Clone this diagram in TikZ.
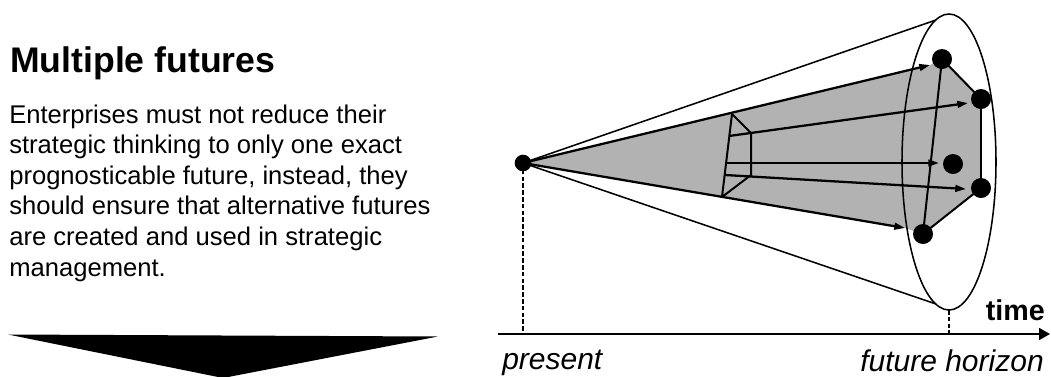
\documentclass[tikz,border=0pt]{standalone}
\usepackage{fontspec}
\setmainfont{Liberation Sans}
\usetikzlibrary{arrows.meta}
\begin{document}
\begin{tikzpicture}[x=0.75pt,y=-0.75pt,
  coneline/.style={line width=1.15pt},
  arr/.style={line width=1.7pt,-{Triangle[length=8pt,width=5pt]}},
  edge/.style={line width=1.5pt},
  dotnode/.style={circle,fill=black,inner sep=0pt,minimum size=15pt},
  pdot/.style={circle,fill=black,inner sep=0pt,minimum size=12.5pt},
  dashline/.style={line width=1.5pt,dash pattern=on 3.4pt off 1.7pt},
  body/.style={anchor=base west,inner sep=0pt,font=\fontsize{19.2}{23}\selectfont},
  axlabel/.style={inner sep=0pt,font=\fontsize{22.5}{27}\selectfont\itshape},
  shade/.style={fill=black!30}]
\useasboundingbox (0,0) rectangle (1051,376);

% ---------- left text ----------
\node[anchor=base west,inner sep=0pt,font=\fontsize{26.7}{32}\selectfont\bfseries] (title) at (10,72) {Multiple futures};
\node[body] (l1) at (9,123) {Enterprises must not reduce their};
\node[body] (l2) at (9,153.6) {strategic thinking to only one exact};
\node[body] (l3) at (9,184.2) {prognosticable future, instead, they};
\node[body] (l4) at (9,214.8) {should ensure that alternative futures};
\node[body] (l5) at (9,245.4) {are created and used in strategic};
\node[body] (l6) at (9,276) {management.};

% big down arrow
\fill[black] (8,334.5) -- (438,336.5) -- (223,378) -- cycle;

% ---------- coordinates ----------
\coordinate (Pc) at (523,163);
\coordinate (t1) at (930,65);
\coordinate (t2) at (968,103);
\coordinate (t3) at (939,163);
\coordinate (t4) at (966,189);
\coordinate (t5) at (905,228);
\coordinate (s2) at (729,136);
\coordinate (s3) at (726,163);
\coordinate (s4) at (725,175);
\coordinate (q1) at (732,114);
\coordinate (q2) at (751,133);
\coordinate (q3) at (751,175);
\coordinate (q4) at (722,197);
\coordinate (ec) at (949,162);
\coordinate (ut) at (936,20);
\coordinate (lt) at (936,304);
\coordinate (eb) at (949,310);
\coordinate (ax0) at (498,334);
\coordinate (ax1) at (1050,334);
\coordinate (pa) at (523,334);
\coordinate (fa) at (949,334);

% shaded region
\fill[shade] (Pc) -- (t1) -- (942,59) -- (981,99) -- (981,188) -- (923,234) -- (t5) -- cycle;

% cone
\draw[coneline] (Pc) -- (ut);
\draw[coneline] (Pc) -- (lt);
\draw[coneline] (ec) ellipse [x radius=47, y radius=148];

% axis
\draw[line width=1.3pt,-{Triangle[length=8.2pt,width=9pt]}] (ax0) -- (ax1);
\draw[dashline] (Pc) -- (pa);
\draw[dashline] (eb) -- (fa);

% cross-section box
\draw[edge,line join=round] (q1) -- (q2) -- (q3) -- (q4) -- cycle;

% pentagon edges
\draw[edge] (942,59) -- (981,99);
\draw[line width=0.8pt] (981,99) -- (981,188);
\draw[edge] (981,188) -- (923,234);
\draw[edge] (942,59) -- (923,234);

% arrows
\draw[arr] (Pc) -- (t1);
\draw[arr] (s2) -- (t2);
\draw[arr] (s3) -- (t3);
\draw[arr] (s4) -- (t4);
\draw[arr] (Pc) -- (t5);

% dots
\node[pdot] (P) at (Pc) {};
\node[dotnode] (A) at (942,59) {};
\node[dotnode] (B) at (981,99) {};
\node[dotnode] (C) at (953,164) {};
\node[dotnode] (D) at (981,188) {};
\node[dotnode] (E) at (923,234) {};

% labels
\node[anchor=base east,inner sep=0pt,font=\fontsize{21.5}{25}\selectfont\bfseries] (time) at (1045,320) {time};
\node[axlabel,anchor=base west] (present) at (502,369) {present};
\node[axlabel,anchor=base east] (horizon) at (1044,371) {future horizon};
\end{tikzpicture}
\end{document}
